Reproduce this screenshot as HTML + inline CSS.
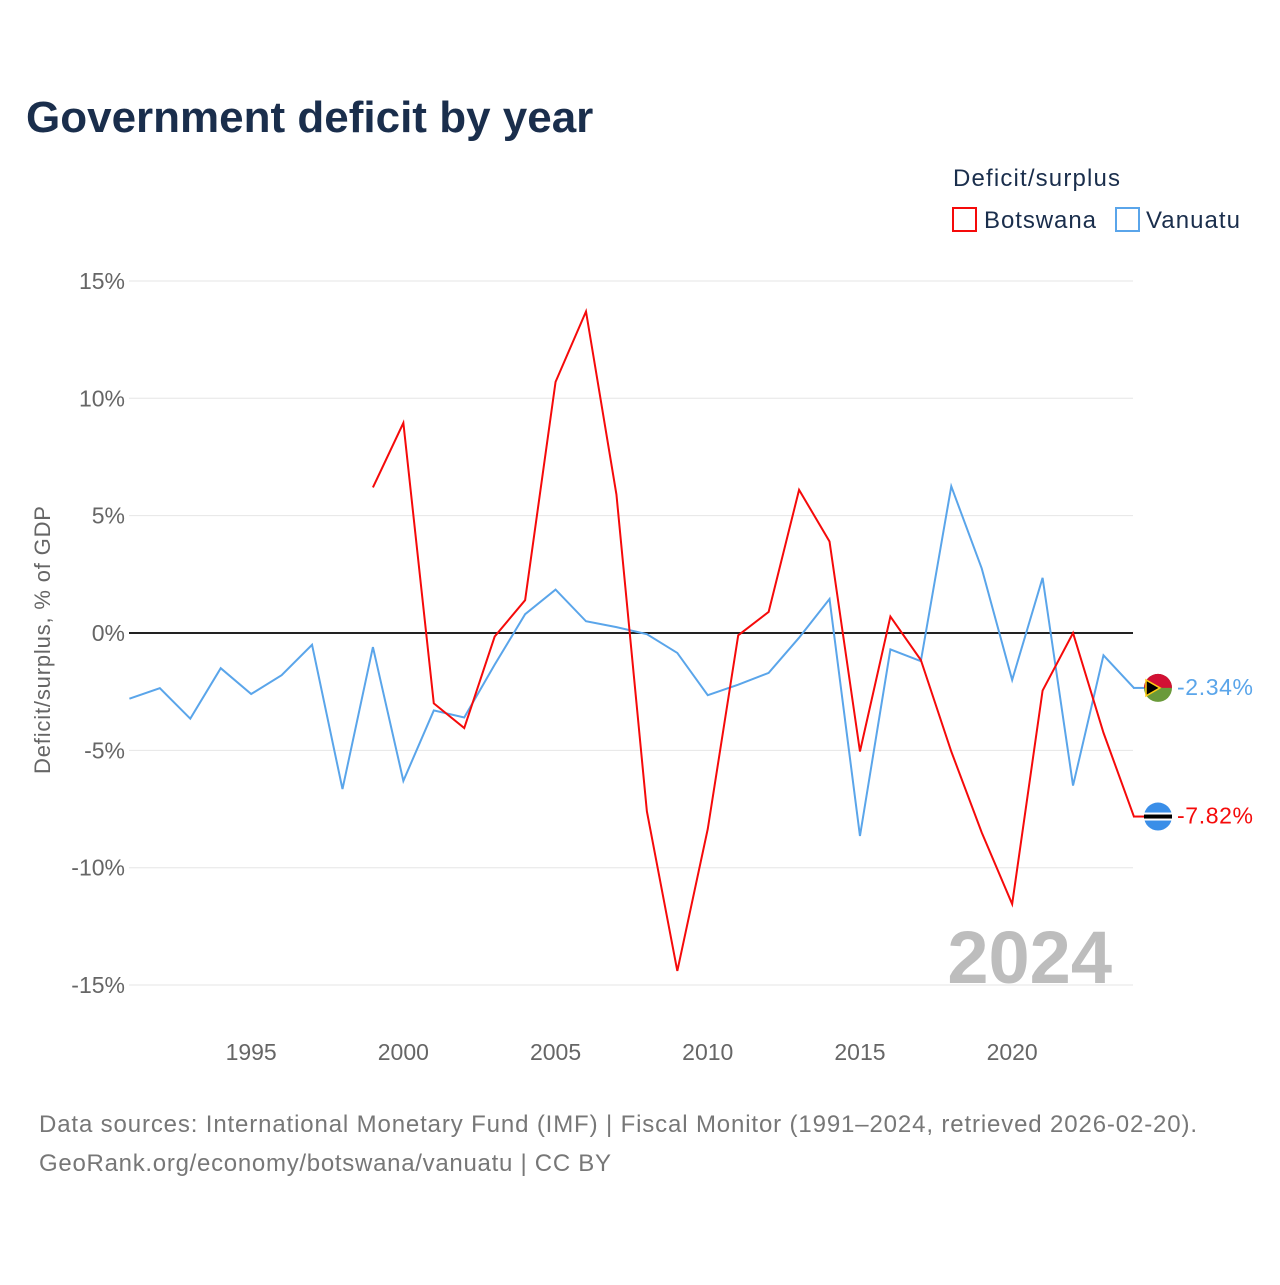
<!DOCTYPE html>
<html><head><meta charset="utf-8">
<style>
body{margin:0;background:#fff;font-family:"Liberation Sans",sans-serif;}
#wrap{position:relative;width:1280px;height:1280px;}
</style></head>
<body><div id="wrap">
<svg id="chart" width="1280" height="1280"></svg>
</div>
<script>
const years=[];for(let y=1991;y<=2024;y++)years.push(y);
const vanuatu=[-2.8,-2.35,-3.65,-1.5,-2.6,-1.8,-0.5,-6.65,-0.6,-6.3,-3.3,-3.6,-1.35,0.8,1.85,0.5,0.25,-0.05,-0.85,-2.65,-2.2,-1.7,-0.2,1.45,-8.65,-0.7,-1.2,6.25,2.75,-2.0,2.35,-6.5,-0.95,-2.34];
const botswanaYears=[1999,2000,2001,2002,2003,2004,2005,2006,2007,2008,2009,2010,2011,2012,2013,2014,2015,2016,2017,2018,2019,2020,2021,2022,2023,2024];
const botswana=[6.2,8.95,-3.0,-4.05,-0.15,1.4,10.7,13.7,5.9,-7.6,-14.4,-8.35,-0.1,0.9,6.1,3.9,-5.05,0.7,-1.15,-5.05,-8.5,-11.55,-2.45,0,-4.25,-7.82];
const yTicks=[15,10,5,0,-5,-10,-15];
const xTicks=[1995,2000,2005,2010,2015,2020];

const NS='http://www.w3.org/2000/svg';
const svg=document.getElementById('chart');
const X=y=>129.4+(y-1991)*30.44;
const Y=v=>633-v*23.47;
function el(t,a,txt){const e=document.createElementNS(NS,t);for(const k in a)e.setAttribute(k,a[k]);if(txt!==undefined)e.textContent=txt;svg.appendChild(e);return e;}

let e=el('text',{x:26,y:132,'font-size':44,'font-weight':'bold',fill:'#1a2e4c'},'Government deficit by year');


yTicks.forEach(v=>{
 let g=el('line',{x1:129,x2:1133,y1:Y(v),y2:Y(v),stroke:v===0?'#222':'#e6e6e6','stroke-width':v===0?2:1});
 
 let t=el('text',{x:125,y:Y(v)+8,'text-anchor':'end','font-size':23,fill:'#666'},v+'%');
 
});
xTicks.forEach(y=>{
 let t=el('text',{x:X(y),y:1060,'text-anchor':'middle','font-size':23,fill:'#666'},String(y));
 
});
e=el('text',{x:50,y:640,'text-anchor':'middle','font-size':22,fill:'#666',transform:'rotate(-90 50 640)',textLength:268},'Deficit/surplus, % of GDP');


e=el('text',{x:1112,y:983,'text-anchor':'end','font-size':74,'font-weight':'bold',fill:'#bdbdbd'},'2024');


e=el('polyline',{points:years.map((y,i)=>X(y)+','+Y(vanuatu[i])).join(' '),fill:'none',stroke:'#5aa5ea','stroke-width':2});

e=el('polyline',{points:botswanaYears.map((y,i)=>X(y)+','+Y(botswana[i])).join(' '),fill:'none',stroke:'#f50a0a','stroke-width':2});


const vEnd=vanuatu[vanuatu.length-1],bEnd=botswana[botswana.length-1];
e=el('line',{x1:1133,x2:1145,y1:Y(vEnd),y2:Y(vEnd),stroke:'#5aa5ea','stroke-width':2});

e=el('line',{x1:1133,x2:1145,y1:Y(bEnd),y2:Y(bEnd),stroke:'#f50a0a','stroke-width':2});

let cy=Y(vEnd);
e=el('circle',{cx:1158,cy:cy,r:14,fill:'#6a9a3a'});
e=el('path',{d:`M1144,${cy} A14,14 0 0 1 1172,${cy} Z`,fill:'#d21034'});
e=el('path',{d:`M1146,${cy-8} L1160,${cy} L1146,${cy+8} Z`,fill:'#000',stroke:'#fdce12','stroke-width':1.5});
e=el('text',{x:1177,y:cy+7,'font-size':23,fill:'#5aa5ea',textLength:76},vEnd.toFixed(2)+'%');
cy=Y(bEnd);
e=el('circle',{cx:1158,cy:cy,r:14,fill:'#3a8ee8'});
e=el('rect',{x:1144,y:cy-4,width:28,height:8,fill:'#fff'});
e=el('rect',{x:1144,y:cy-2,width:28,height:4,fill:'#000'});
e=el('text',{x:1177,y:cy+7,'font-size':23,fill:'#f50a0a',textLength:76},bEnd.toFixed(2)+'%');

e=el('text',{x:953,y:186,'font-size':24,fill:'#1a2e4c',textLength:167},'Deficit/surplus');
e=el('rect',{x:953,y:208,width:23,height:23,fill:'none',stroke:'#f50a0a','stroke-width':2});
e=el('text',{x:984,y:228,'font-size':24,fill:'#1a2e4c',textLength:112},'Botswana');
e=el('rect',{x:1116,y:208,width:23,height:23,fill:'none',stroke:'#5aa5ea','stroke-width':2});
e=el('text',{x:1146,y:228,'font-size':24,fill:'#1a2e4c',textLength:94},'Vanuatu');

e=el('text',{x:39,y:1132,'font-size':24,fill:'#777',textLength:1158},'Data sources: International Monetary Fund (IMF) | Fiscal Monitor (1991–2024, retrieved 2026-02-20).');

e=el('text',{x:39,y:1171,'font-size':24,fill:'#777',textLength:572},'GeoRank.org/economy/botswana/vanuatu | CC BY');

</script>
</body></html>
